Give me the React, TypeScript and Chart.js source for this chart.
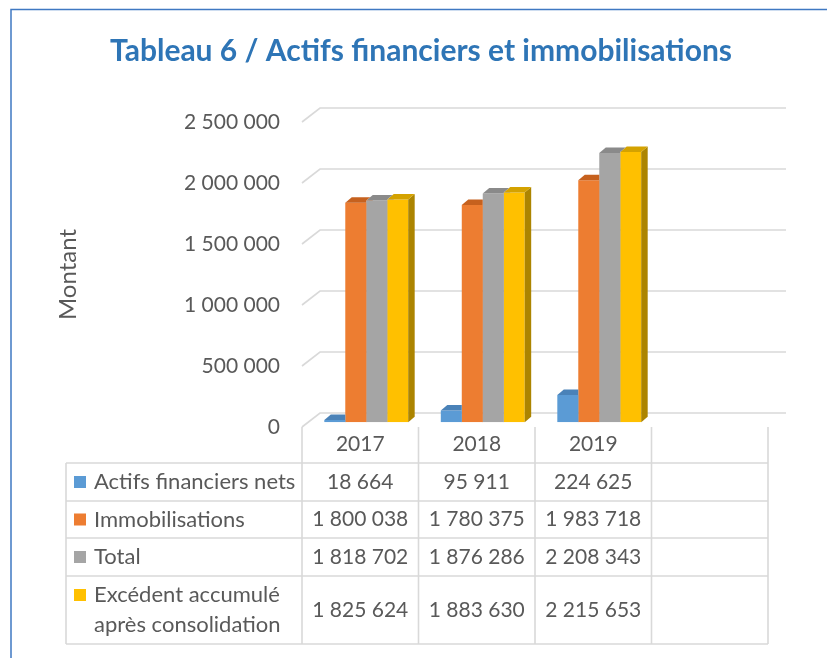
import React, { useEffect, useRef } from "react";
import { Chart, registerables } from "chart.js";

Chart.register(...registerables);

// ---------- data ----------
const categories = ["2017", "2018", "2019", ""];
const seriesNames = [
  "Actifs financiers nets",
  "Immobilisations",
  "Total",
  "Excédent accumulé après consolidation",
];
const seriesTableLines = [
  ["Actifs financiers nets"],
  ["Immobilisations"],
  ["Total"],
  ["Excédent accumulé", "après consolidation"],
];
const actifsFinanciersNets = [18664, 95911, 224625];
const immobilisations = [1800038, 1780375, 1983718];
const totalValues = [1818702, 1876286, 2208343];
const excedentAccumule = [1825624, 1883630, 2215653];
const yTickValues = [0, 500000, 1000000, 1500000, 2000000, 2500000];
const chartTitle = "Tableau 6 / Actifs financiers et immobilisations";
const yAxisTitle = "Montant";

// ---------- styles ----------
const frontColors = ["#5B9BD5", "#ED7D31", "#A5A5A5", "#FFC000"];
const topColors = ["#4A82B8", "#C6611E", "#8A8A8A", "#D4A200"];
const sideColors = ["#3F6F9C", "#AE5619", "#7A7A7A", "#AC8400"];
const FONT = 'Lato, "Open Sans", sans-serif';
const TEXT = "#595959";
const GRID = "#D9D9D9";
const WALL_DX = 18;
const WALL_DY = -14;
const BAR_DX = 6;
const BAR_DY = -4.7;
const FACE_DX = 6.5;
const FACE_DY = -5.5;
const TABLE_LEFT = 66;
const ROW_LINES = [463, 501, 538, 576, 644];
const FONT_SIZE = 21;
const LABEL_FONT_SIZE = 22;

function fmt(n: number): string {
  return String(n).replace(/\B(?=(\d{3})+(?!\d))/g, " ");
}

const allSeries = [actifsFinanciersNets, immobilisations, totalValues, excedentAccumule];

const threeDPlugin = {
  id: "threeD",
  beforeDraw(chart: any) {
    const { ctx, width, height, chartArea } = chart;
    const ys = chart.scales.y;
    ctx.save();
    ctx.fillStyle = "#ffffff";
    ctx.fillRect(0, 0, width, height);
    // outer border
    ctx.strokeStyle = "#3F78C2";
    ctx.lineWidth = 1.5;
    ctx.strokeRect(11, 9.5, width + 40, height + 40);
    // title
    ctx.fillStyle = "#2E75B6";
    ctx.font = `bold 30px ${FONT}`;
    ctx.textAlign = "center";
    ctx.textBaseline = "alphabetic";
    ctx.fillText(chartTitle, 421, 61);
    // 3D grid (back wall + left wall stubs)
    ctx.strokeStyle = GRID;
    ctx.lineWidth = 1.6;
    for (const v of yTickValues) {
      const y = ys.getPixelForValue(v);
      ctx.beginPath();
      ctx.moveTo(chartArea.left, y);
      ctx.lineTo(chartArea.left + WALL_DX, y + WALL_DY);
      ctx.lineTo(chartArea.right + WALL_DX, y + WALL_DY);
      ctx.stroke();
    }
    ctx.restore();
  },
  beforeDatasetsDraw(chart: any) {
    chart.ctx.save();
    chart.ctx.translate(BAR_DX, BAR_DY);
  },
  afterDatasetDraw(chart: any, args: any) {
    const d = args.index;
    const ctx = chart.ctx;
    const n = chart.data.datasets.length;
    args.meta.data.forEach((el: any, i: number) => {
      const { x, y, base, width } = el.getProps(["x", "y", "base", "width"], true);
      const x0 = x - width / 2;
      const x1 = x + width / 2;
      ctx.save();
      for (let k = d + 1; k < n; k++) {
        const nb = chart.getDatasetMeta(k).data[i];
        if (!nb) continue;
        const p = nb.getProps(["x", "y", "base", "width"], true);
        const nx0 = p.x - p.width / 2;
        ctx.beginPath();
        ctx.rect(-2000, -2000, 6000, 6000);
        ctx.rect(nx0, p.y, p.width, p.base - p.y);
        ctx.clip("evenodd");
        if (p.y < y) {
          ctx.beginPath();
          ctx.rect(-2000, -2000, 6000, 6000);
          ctx.moveTo(nx0, p.y);
          ctx.lineTo(nx0 + FACE_DX, p.y + FACE_DY);
          ctx.lineTo(nx0 + p.width + FACE_DX, p.y + FACE_DY);
          ctx.lineTo(nx0 + p.width, p.y);
          ctx.closePath();
          ctx.clip("evenodd");
        }
      }
      // side face
      ctx.fillStyle = sideColors[d];
      ctx.beginPath();
      ctx.moveTo(x1, y);
      ctx.lineTo(x1 + FACE_DX, y + FACE_DY);
      ctx.lineTo(x1 + FACE_DX, base + FACE_DY);
      ctx.lineTo(x1, base);
      ctx.closePath();
      ctx.fill();
      // top face
      ctx.fillStyle = topColors[d];
      ctx.beginPath();
      ctx.moveTo(x0, y);
      ctx.lineTo(x0 + FACE_DX, y + FACE_DY);
      ctx.lineTo(x1 + FACE_DX, y + FACE_DY);
      ctx.lineTo(x1, y);
      ctx.closePath();
      ctx.fill();
      ctx.restore();
    });
  },
  afterDatasetsDraw(chart: any) {
    chart.ctx.restore();
  },
  afterDraw(chart: any) {
    const { ctx } = chart;
    const xs = chart.scales.x;
    const nCat = categories.length;
    const colW = (xs.right - xs.left) / nCat;
    const headerTop = xs.top;
    const tableBottom = ROW_LINES[ROW_LINES.length - 1];
    ctx.save();
    ctx.strokeStyle = GRID;
    ctx.lineWidth = 1.6;
    ctx.beginPath();
    for (const ry of ROW_LINES) {
      ctx.moveTo(TABLE_LEFT, ry);
      ctx.lineTo(xs.right, ry);
    }
    ctx.moveTo(TABLE_LEFT, ROW_LINES[0]);
    ctx.lineTo(TABLE_LEFT, tableBottom);
    for (let k = 0; k <= nCat; k++) {
      const ex = xs.left + k * colW;
      ctx.moveTo(ex, headerTop);
      ctx.lineTo(ex, tableBottom);
    }
    ctx.stroke();

    ctx.textBaseline = "middle";
    ctx.fillStyle = TEXT;
    for (let r = 0; r < seriesTableLines.length; r++) {
      const top = ROW_LINES[r];
      const bottom = ROW_LINES[r + 1];
      const lines = seriesTableLines[r];
      const lh = 30;
      const cy = (top + bottom) / 2;
      const firstY = cy - ((lines.length - 1) * lh) / 2;
      // legend key
      ctx.fillStyle = frontColors[r];
      ctx.fillRect(74, firstY - 6, 12, 12);
      ctx.fillStyle = TEXT;
      ctx.textAlign = "left";
      ctx.font = `${LABEL_FONT_SIZE}px ${FONT}`;
      lines.forEach((ln, li) => ctx.fillText(ln, 94, firstY + li * lh));
      // values
      ctx.textAlign = "center";
      ctx.font = `${FONT_SIZE}px ${FONT}`;
      const vals = allSeries[r];
      for (let c = 0; c < nCat; c++) {
        if (vals[c] === undefined) continue;
        ctx.fillText(fmt(vals[c]), xs.getPixelForValue(c), cy);
      }
    }
    ctx.restore();
  },
};

export default function App() {
  const ref = useRef<HTMLCanvasElement>(null);
  useEffect(() => {
    const canvas = ref.current;
    if (!canvas) return;
    const chart = new Chart(canvas, {
      type: "bar",
      data: {
        labels: categories,
        datasets: allSeries.map((vals, i) => ({
          label: seriesNames[i],
          data: vals,
          backgroundColor: frontColors[i],
          borderWidth: 0,
          barPercentage: 1,
          categoryPercentage: 0.72,
        })),
      },
      options: {
        responsive: false,
        animation: false,
        devicePixelRatio: 1,
        layout: { padding: { top: 122, left: 0, right: 59, bottom: 0 } },
        plugins: {
          legend: { display: false },
          tooltip: { enabled: false },
          title: { display: false },
        },
        scales: {
          x: {
            grid: { display: false, drawTicks: false },
            border: { display: false },
            ticks: {
              color: TEXT,
              font: { family: FONT, size: FONT_SIZE },
              padding: 5,
              maxRotation: 0,
              autoSkip: false,
            },
            afterFit: (s: any) => {
              s.height = 231;
            },
          },
          y: {
            min: 0,
            max: 2500000,
            grid: { display: false, drawTicks: false },
            border: { display: false },
            afterBuildTicks: (s: any) => {
              s.ticks = yTickValues.map((v) => ({ value: v }));
            },
            ticks: {
              color: TEXT,
              font: { family: FONT, size: FONT_SIZE },
              padding: 22,
              callback: (v: any) => fmt(Number(v)),
            },
            title: {
              display: true,
              text: yAxisTitle,
              color: TEXT,
              font: { family: FONT, size: 24 },
              padding: { top: 53.6, bottom: 0 },
            },
            afterFit: (s: any) => {
              s.width = 302;
            },
          },
        },
      },
      plugins: [threeDPlugin],
    });
    return () => chart.destroy();
  }, []);
  return (
    <div
      style={{
        position: "fixed",
        left: 0,
        top: 0,
        width: 827,
        height: 658,
        background: "#fff",
      }}
    >
      <canvas ref={ref} width={827} height={658} style={{ display: "block", width: 827, height: 658 }} />
    </div>
  );
}
